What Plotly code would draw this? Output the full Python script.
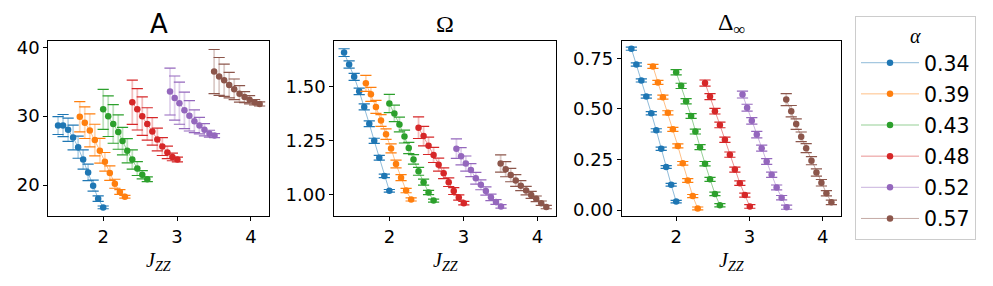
import plotly.graph_objects as go

alphas = ["0.34", "0.39", "0.43", "0.48", "0.52", "0.57"]
colors = ["#1f77b4", "#ff7f0e", "#2ca02c", "#d62728", "#9467bd", "#8c564b"]

jzz = [
    [1.389, 1.457, 1.525, 1.593, 1.661, 1.729, 1.796, 1.864, 1.932, 2.000],
    [1.683, 1.751, 1.819, 1.887, 1.955, 2.023, 2.090, 2.158, 2.226, 2.294],
    [2.000, 2.068, 2.136, 2.204, 2.262, 2.326, 2.394, 2.462, 2.529, 2.597],
    [2.394, 2.462, 2.529, 2.597, 2.665, 2.733, 2.801, 2.869, 2.937, 3.005],
    [2.905, 2.968, 3.032, 3.100, 3.167, 3.235, 3.303, 3.371, 3.439, 3.507],
    [3.502, 3.570, 3.638, 3.706, 3.774, 3.846, 3.914, 3.982, 4.050, 4.118],
]

A_val = [
    [28.64, 28.64, 28.03, 26.90, 25.49, 23.71, 21.83, 19.91, 18.03, 16.76],
    [29.91, 29.06, 27.93, 26.53, 24.98, 23.38, 21.74, 20.19, 19.00, 18.31],
    [30.99, 30.00, 28.87, 27.70, 26.38, 24.98, 23.71, 22.39, 21.50, 20.85],
    [32.02, 30.99, 30.00, 28.87, 27.79, 26.62, 25.59, 24.74, 24.08, 23.71],
    [33.57, 32.63, 31.88, 30.85, 30.05, 29.25, 28.64, 28.03, 27.46, 27.18],
    [36.48, 35.77, 35.21, 34.51, 33.90, 33.24, 32.77, 32.39, 32.02, 31.78],
]
A_err = [
    [1.3, 1.6, 1.7, 1.8, 1.6, 1.4, 1.2, 0.8, 0.4, 0.2],
    [2.2, 2.3, 2.4, 2.3, 1.8, 1.35, 1.05, 0.65, 0.35, 0.2],
    [2.9, 2.95, 2.8, 2.5, 2.0, 1.75, 1.4, 1.0, 0.6, 0.35],
    [3.2, 3.0, 2.8, 2.35, 2.0, 1.65, 1.3, 0.9, 0.55, 0.35],
    [3.4, 3.2, 3.05, 2.65, 2.2, 1.65, 1.2, 0.9, 0.5, 0.3],
    [3.2, 2.75, 2.35, 1.85, 1.5, 1.2, 0.8, 0.6, 0.4, 0.3],
]

Om_val = [
    [1.657, 1.602, 1.545, 1.478, 1.406, 1.328, 1.249, 1.171, 1.087, 1.018],
    [1.515, 1.464, 1.406, 1.343, 1.280, 1.214, 1.142, 1.079, 1.019, 0.978],
    [1.422, 1.376, 1.325, 1.269, 1.216, 1.163, 1.108, 1.058, 1.010, 0.973],
    [1.310, 1.271, 1.226, 1.184, 1.139, 1.099, 1.058, 1.017, 0.987, 0.961],
    [1.213, 1.178, 1.144, 1.114, 1.076, 1.046, 1.017, 0.988, 0.966, 0.946],
    [1.144, 1.118, 1.091, 1.066, 1.042, 1.019, 0.999, 0.981, 0.961, 0.943],
]
Om_err = [
    [0.018, 0.017, 0.016, 0.015, 0.014, 0.013, 0.012, 0.011, 0.008, 0.006],
    [0.037, 0.032, 0.030, 0.027, 0.024, 0.021, 0.018, 0.014, 0.010, 0.007],
    [0.042, 0.038, 0.034, 0.030, 0.026, 0.022, 0.018, 0.014, 0.010, 0.007],
    [0.050, 0.045, 0.040, 0.035, 0.030, 0.025, 0.020, 0.016, 0.012, 0.008],
    [0.045, 0.040, 0.035, 0.030, 0.027, 0.023, 0.019, 0.015, 0.011, 0.008],
    [0.040, 0.035, 0.031, 0.027, 0.023, 0.020, 0.016, 0.013, 0.010, 0.008],
]

D_val = [
    [0.798, 0.720, 0.641, 0.561, 0.479, 0.394, 0.303, 0.213, 0.125, 0.042],
    [0.710, 0.631, 0.558, 0.481, 0.399, 0.317, 0.231, 0.146, 0.069, 0.008],
    [0.681, 0.614, 0.538, 0.465, 0.388, 0.311, 0.229, 0.152, 0.080, 0.024],
    [0.628, 0.561, 0.489, 0.421, 0.348, 0.274, 0.200, 0.133, 0.074, 0.018],
    [0.571, 0.506, 0.441, 0.373, 0.306, 0.240, 0.175, 0.112, 0.061, 0.014],
    [0.546, 0.489, 0.425, 0.362, 0.306, 0.244, 0.186, 0.135, 0.083, 0.038],
]
D_err = [
    [0.008, 0.008, 0.008, 0.008, 0.008, 0.008, 0.008, 0.007, 0.007, 0.006],
    [0.010, 0.010, 0.010, 0.010, 0.010, 0.010, 0.009, 0.009, 0.008, 0.007],
    [0.013, 0.013, 0.013, 0.012, 0.012, 0.012, 0.011, 0.010, 0.009, 0.008],
    [0.015, 0.015, 0.014, 0.014, 0.013, 0.013, 0.012, 0.011, 0.010, 0.009],
    [0.017, 0.017, 0.016, 0.016, 0.015, 0.014, 0.013, 0.012, 0.011, 0.010],
    [0.030, 0.028, 0.026, 0.024, 0.022, 0.020, 0.018, 0.016, 0.013, 0.011],
]

panels = [(A_val, A_err), (Om_val, Om_err), (D_val, D_err)]
titles = ["A", "Ω", "Δ<sub>∞</sub>"]
title_fonts = [dict(size=26, family="DejaVu Sans"),
               dict(size=24, family="Liberation Serif"),
               dict(size=24, family="Liberation Serif")]


def rgba(hex_c, a):
    h = hex_c.lstrip("#")
    r, g, b = int(h[0:2], 16), int(h[2:4], 16), int(h[4:6], 16)
    return f"rgba({r},{g},{b},{a})"


W, H = 993, 286
OFF = 8  # page body margin


def fx(X):
    return (X - OFF) / W


def fy(Y):
    return 1 - (Y - OFF) / H


fig = go.Figure()
for p, (vals, errs) in enumerate(panels):
    xa = "x" if p == 0 else f"x{p+1}"
    ya = "y" if p == 0 else f"y{p+1}"
    for s in range(len(alphas)):
        c = colors[s]
        x = jzz[s]
        y = vals[s]
        e = errs[s]
        fig.add_trace(go.Scatter(
            x=x, y=y, xaxis=xa, yaxis=ya, mode="lines+markers",
            line=dict(color=rgba(c, 0.5), width=1),
            marker=dict(color=c, size=6.5),
            error_y=dict(type="data", array=e, visible=True,
                         color=rgba(c, 0.3), thickness=1.8, width=0),
            name=alphas[s], legendgroup=alphas[s],
            showlegend=(p == 0),
        ))
        fig.add_trace(go.Scatter(
            x=list(x) + list(x),
            y=[yy + ee for yy, ee in zip(y, e)] + [yy - ee for yy, ee in zip(y, e)],
            xaxis=xa, yaxis=ya, mode="markers",
            marker=dict(symbol="line-ew", size=8, color=c,
                        line=dict(color=c, width=1.2)),
            showlegend=False, hoverinfo="skip", legendgroup=alphas[s],
        ))

xdoms = [(48.3, 269.0), (334.3, 555.7), (621.7, 840.7)]
ydom = [fy(218), fy(38)]
yranges = [[15.49, 40.89], [0.901, 1.710], [-0.030, 0.835]]
yticks = [[20, 30, 40], [1.00, 1.25, 1.50], [0.00, 0.25, 0.50, 0.75]]
ytext = [["20", "30", "40"], ["1.00", "1.25", "1.50"], ["0.00", "0.25", "0.50", "0.75"]]

axis_common = dict(showline=True, linecolor="black", linewidth=1, mirror=True,
                   ticks="outside", ticklen=4, tickcolor="black", showgrid=False,
                   zeroline=False, tickfont=dict(size=18, color="black"))

layout = {}
for p in range(3):
    xk = "xaxis" if p == 0 else f"xaxis{p+1}"
    yk = "yaxis" if p == 0 else f"yaxis{p+1}"
    layout[xk] = dict(domain=[fx(xdoms[p][0]), fx(xdoms[p][1])], range=[1.257, 4.245],
                      tickvals=[2, 3, 4], ticktext=["2", "3", "4"],
                      anchor="y" if p == 0 else f"y{p+1}", **axis_common)
    layout[yk] = dict(domain=ydom, range=yranges[p], tickvals=yticks[p], ticktext=ytext[p],
                      anchor="x" if p == 0 else f"x{p+1}", **axis_common)
fig.update_layout(**layout)

annotations = []
for p in range(3):
    cx = fx((xdoms[p][0] + xdoms[p][1]) / 2)
    annotations.append(dict(x=cx, y=fy(20), xref="paper", yref="paper",
                            text=titles[p], showarrow=False,
                            font=dict(color="black", **title_fonts[p]),
                            xanchor="center", yanchor="middle"))
    annotations.append(dict(x=cx, y=fy(265), xref="paper", yref="paper",
                            text="<i>J</i><sub><i>ZZ</i></sub>", showarrow=False,
                            font=dict(size=20, color="black", family="Liberation Serif"),
                            xanchor="center", yanchor="middle"))

fig.update_layout(
    width=W, height=H, margin=dict(l=0, r=0, t=0, b=0),
    paper_bgcolor="white", plot_bgcolor="white",
    font=dict(family="DejaVu Sans", color="black"),
    annotations=annotations,
    legend=dict(x=fx(855), y=fy(12), xanchor="left", yanchor="top",
                bgcolor="white", bordercolor="#cccccc", borderwidth=1,
                font=dict(size=20.5, color="black"),
                title=dict(text="<i>α</i>", side="top center",
                           font=dict(size=20, family="Liberation Serif")),
                traceorder="grouped", tracegroupgap=1.5, itemwidth=58),
)

fig.write_html("out.html")
